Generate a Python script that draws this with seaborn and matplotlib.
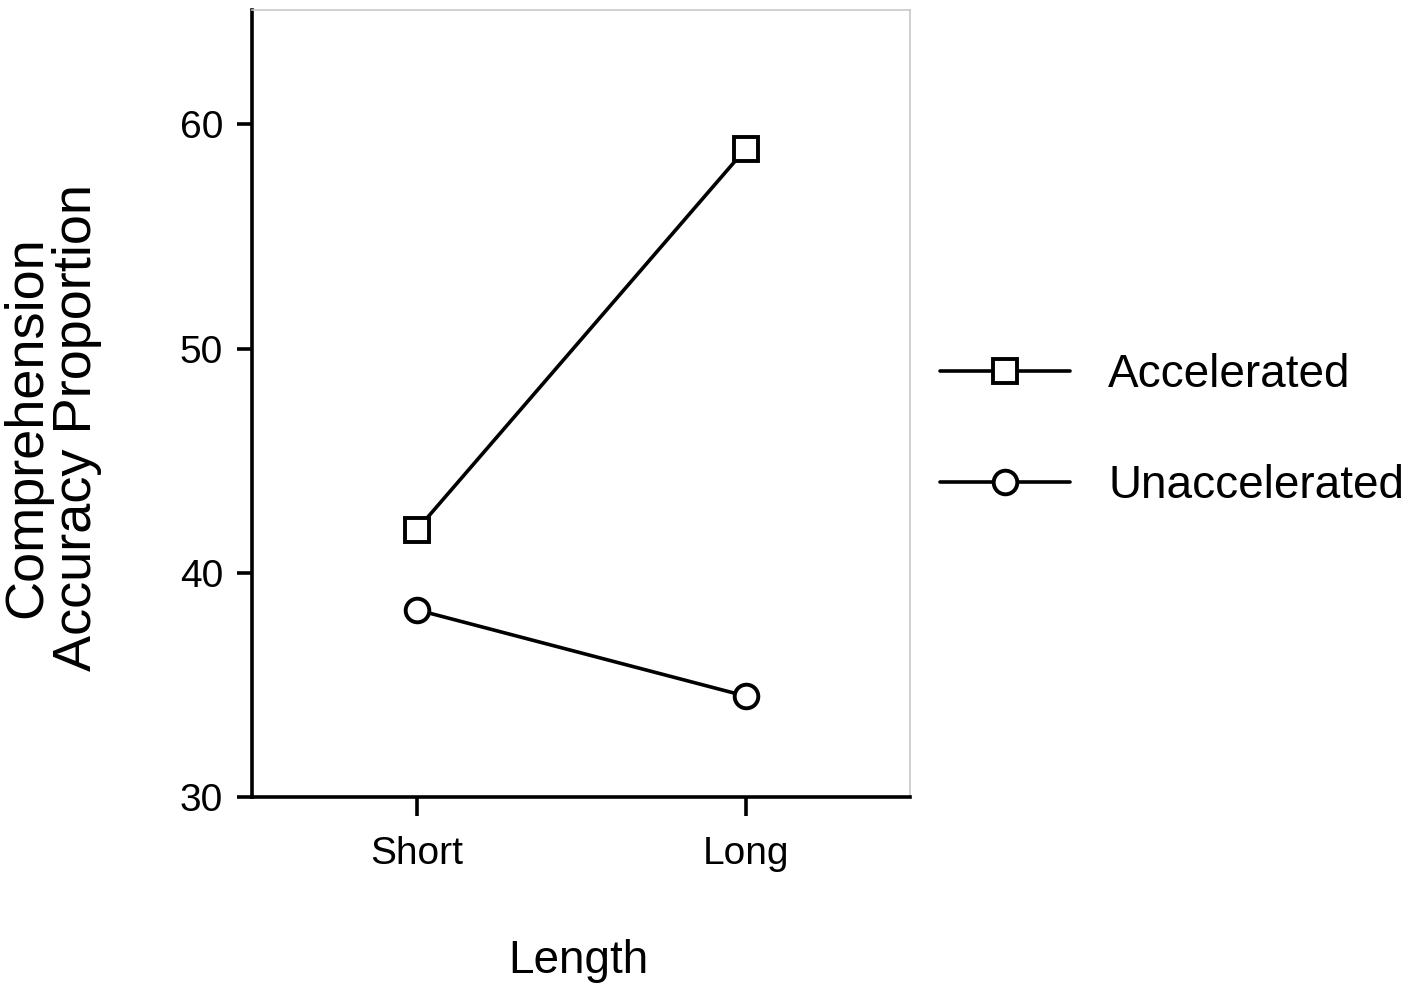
import numpy as np
import pandas as pd
from matplotlib import pyplot as plt
import seaborn as sns

# 数据
lengths = ['Short', 'Long']
groups = ['Accelerated', 'Unaccelerated']
accelerated = [41.9, 58.9]
unaccelerated = [38.35, 34.5]
y_ticks = [30, 40, 50, 60]

df = pd.DataFrame({
    'Length': lengths * 2,
    'Accuracy': accelerated + unaccelerated,
    'Group': [groups[0]] * 2 + [groups[1]] * 2,
})

sns.set_style('white')
plt.rcParams['font.family'] = ['Liberation Sans', 'DejaVu Sans']
plt.rcParams['text.color'] = 'black'
plt.rcParams['axes.labelcolor'] = 'black'
plt.rcParams['xtick.color'] = 'black'
plt.rcParams['ytick.color'] = 'black'

fig = plt.figure(figsize=(14.12, 9.91), dpi=100)
ax = fig.add_axes([0.1785, 0.1958, 0.466, 0.7941])

sns.lineplot(data=df, x='Length', y='Accuracy', hue='Group', style='Group',
             markers={'Accelerated': 's', 'Unaccelerated': 'o'}, dashes=False,
             palette=['black', 'black'], ax=ax, legend=False,
             linewidth=2.6, markersize=17, markerfacecolor='white',
             markeredgecolor='black', markeredgewidth=2.8)

ax.set_xlim(-0.5, 1.5)
ax.set_ylim(30, 65.1)
ax.set_yticks(y_ticks)

# 坐标轴样式
for side in ['left', 'bottom']:
    ax.spines[side].set_color('black')
    ax.spines[side].set_linewidth(2.6)
for side in ['top', 'right']:
    ax.spines[side].set_color('#c8c8c8')
    ax.spines[side].set_linewidth(1.2)

ax.tick_params(axis='y', direction='out', length=11, width=2.6, labelsize=28,
               pad=10, left=True)
ax.tick_params(axis='x', direction='out', length=14, width=2.6, labelsize=28,
               pad=14, bottom=True)

ax.set_xlabel('Length', fontsize=33)
ax.set_ylabel('Comprehension\nAccuracy Proportion', fontsize=39, linespacing=1.0)
ax.xaxis.set_label_coords(0.496, -0.18)
ax.yaxis.set_label_coords(-0.228, 0.47)

# 图例
handles = ax.lines[:2]
fig.legend(handles, groups, loc='center left', bbox_to_anchor=(0.6657, 0.566),
           frameon=False, fontsize=33, handlelength=2.84, handletextpad=0.83,
           labelspacing=1.46, borderpad=0, borderaxespad=0, numpoints=1)

plt.savefig('out.png', dpi=100)
